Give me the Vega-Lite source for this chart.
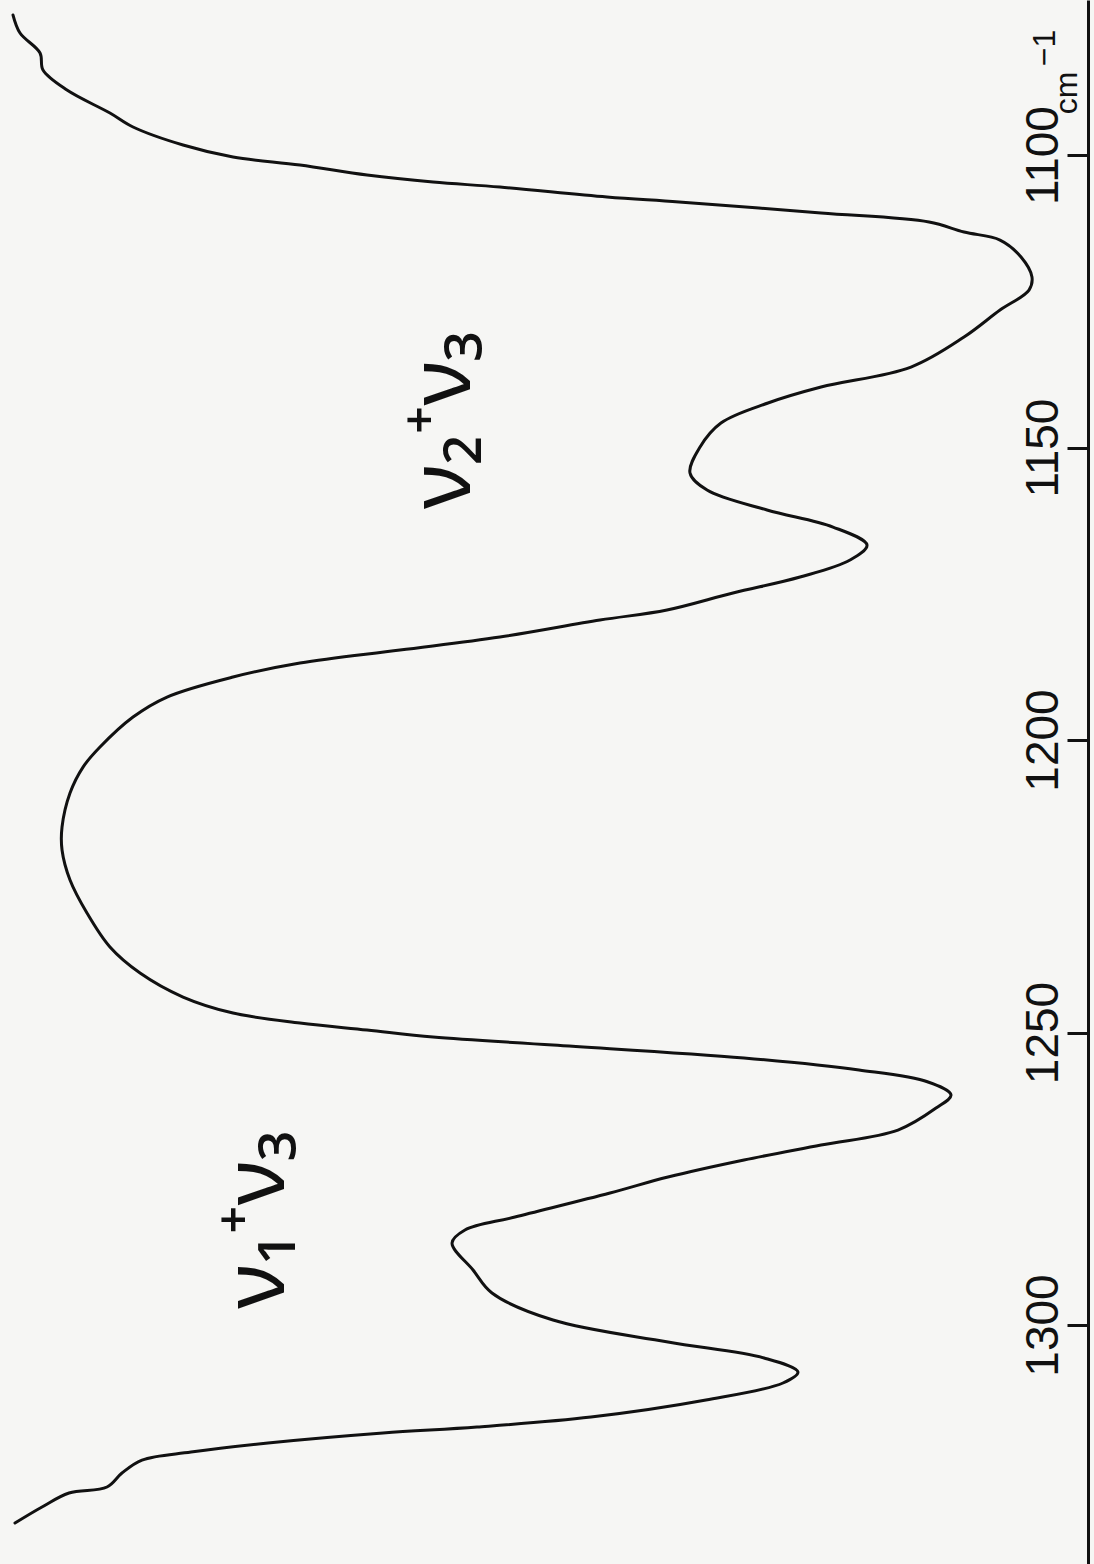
{
  "$schema": "https://vega.github.io/schema/vega-lite/v6.json",
  "width": 1094,
  "height": 1564,
  "autosize": {"type": "fit", "contains": "padding"},
  "padding": 0,
  "background": "#f6f6f4",
  "config": {"view": {"stroke": null}},
  "encoding": {
    "x": {"field": "T", "type": "quantitative", "scale": {"domain": [0, 100], "nice": false, "zero": false}, "axis": null},
    "y": {"field": "wn", "type": "quantitative",
          "scale": {"domain": [1073.5, 1340.85], "reverse": true, "nice": false, "zero": false},
          "axis": {"orient": "right", "offset": -6, "minExtent": 0, "values": [1100, 1150, 1200, 1250, 1300], "format": "d",
                   "title": null, "grid": false, "domainColor": "#111111", "domainWidth": 3,
                   "tickColor": "#111111", "tickWidth": 3, "tickSize": -21,
                   "labelAngle": 270, "labelAlign": "center", "labelBaseline": "alphabetic", "labelPadding": -10,
                   "labelFont": "Liberation Sans", "labelFontSize": 46, "labelColor": "#111111",
                   "labelOverlap": false, "labelFlush": false}}
  },
  "layer": [
    {
      "data": {"values": [
        {"wn": 1076.07, "T": 1.19}, {"wn": 1079.15, "T": 1.83}, {"wn": 1082.56, "T": 3.66}, {"wn": 1085.47, "T": 3.93},
        {"wn": 1088.89, "T": 6.12}, {"wn": 1092.82, "T": 10.05}, {"wn": 1095.21, "T": 12.16}, {"wn": 1098.29, "T": 16.73},
        {"wn": 1100.34, "T": 21.30}, {"wn": 1101.71, "T": 27.42}, {"wn": 1103.42, "T": 33.55}, {"wn": 1104.62, "T": 39.58},
        {"wn": 1105.47, "T": 45.70}, {"wn": 1107.18, "T": 55.48}, {"wn": 1108.03, "T": 62.07}, {"wn": 1109.91, "T": 75.05},
        {"wn": 1111.45, "T": 84.92}, {"wn": 1113.16, "T": 88.12}, {"wn": 1114.53, "T": 91.41}, {"wn": 1117.44, "T": 93.33},
        {"wn": 1120.85, "T": 94.33}, {"wn": 1123.08, "T": 94.06}, {"wn": 1126.50, "T": 91.41}, {"wn": 1131.11, "T": 88.12},
        {"wn": 1136.24, "T": 83.27}, {"wn": 1139.66, "T": 75.05}, {"wn": 1142.39, "T": 70.20}, {"wn": 1145.81, "T": 65.90},
        {"wn": 1149.91, "T": 63.99}, {"wn": 1154.36, "T": 63.07}, {"wn": 1157.26, "T": 64.63}, {"wn": 1160.68, "T": 70.11},
        {"wn": 1163.59, "T": 76.14}, {"wn": 1166.67, "T": 79.25}, {"wn": 1169.23, "T": 77.70}, {"wn": 1172.14, "T": 73.13},
        {"wn": 1174.87, "T": 67.00}, {"wn": 1177.78, "T": 60.97}, {"wn": 1179.49, "T": 54.84}, {"wn": 1182.39, "T": 45.70},
        {"wn": 1184.62, "T": 36.56}, {"wn": 1186.84, "T": 27.42}, {"wn": 1189.23, "T": 21.30}, {"wn": 1192.65, "T": 15.27},
        {"wn": 1196.07, "T": 12.16}, {"wn": 1201.20, "T": 9.14}, {"wn": 1204.62, "T": 7.59}, {"wn": 1209.06, "T": 6.40},
        {"wn": 1214.87, "T": 5.67}, {"wn": 1218.80, "T": 5.67}, {"wn": 1223.93, "T": 6.40}, {"wn": 1229.57, "T": 7.95},
        {"wn": 1235.38, "T": 10.05}, {"wn": 1239.83, "T": 12.80}, {"wn": 1243.93, "T": 16.73}, {"wn": 1246.67, "T": 21.30},
        {"wn": 1248.38, "T": 27.42}, {"wn": 1249.57, "T": 33.55}, {"wn": 1250.77, "T": 39.58}, {"wn": 1252.14, "T": 50.55},
        {"wn": 1254.36, "T": 68.01}, {"wn": 1256.41, "T": 78.52}, {"wn": 1258.46, "T": 84.83}, {"wn": 1260.68, "T": 86.93},
        {"wn": 1262.91, "T": 85.56}, {"wn": 1266.67, "T": 82.08}, {"wn": 1269.23, "T": 75.05}, {"wn": 1271.79, "T": 68.01},
        {"wn": 1274.70, "T": 61.06}, {"wn": 1277.44, "T": 55.76}, {"wn": 1281.54, "T": 47.07}, {"wn": 1283.76, "T": 42.50},
        {"wn": 1285.98, "T": 41.32}, {"wn": 1290.60, "T": 43.24}, {"wn": 1294.53, "T": 44.97}, {"wn": 1299.15, "T": 50.55},
        {"wn": 1302.91, "T": 61.06}, {"wn": 1305.64, "T": 69.84}, {"wn": 1308.03, "T": 72.94}, {"wn": 1309.91, "T": 71.57},
        {"wn": 1312.82, "T": 64.53}, {"wn": 1315.73, "T": 54.02}, {"wn": 1317.44, "T": 43.60}, {"wn": 1318.46, "T": 35.01},
        {"wn": 1320.17, "T": 24.50}, {"wn": 1321.71, "T": 17.46}, {"wn": 1323.08, "T": 12.98}, {"wn": 1325.30, "T": 11.15},
        {"wn": 1327.69, "T": 9.78}, {"wn": 1328.72, "T": 6.31}, {"wn": 1331.11, "T": 3.84}, {"wn": 1333.85, "T": 1.37}
      ]},
      "mark": {"type": "line", "color": "#111111", "strokeWidth": 3, "strokeJoin": "round", "strokeCap": "round", "interpolate": "catmull-rom"},
      "encoding": {
        "order": {"field": "wn", "type": "quantitative"}
      }
    },
    {
      "data": {"values": [
        {"wn": 1282.0, "T": 23.6, "label": "ν₁⁺ν₃"},
        {"wn": 1145.3, "T": 40.6, "label": "ν₂⁺ν₃"}
      ]},
      "mark": {"type": "text", "angle": 270, "align": "center", "baseline": "middle", "font": "Noto Sans", "fontSize": 86, "color": "#111111"},
      "encoding": {
        "text": {"field": "label"}
      }
    },
    {
      "data": {"values": [
        {"wn": 1089.4, "T": 97.5, "label": "cm"},
        {"wn": 1081.7, "T": 95.5, "label": "−1"}
      ]},
      "mark": {"type": "text", "angle": 270, "align": "center", "baseline": "middle", "font": "Liberation Sans", "fontSize": 32, "color": "#111111"},
      "encoding": {
        "text": {"field": "label"}
      }
    }
  ]
}
